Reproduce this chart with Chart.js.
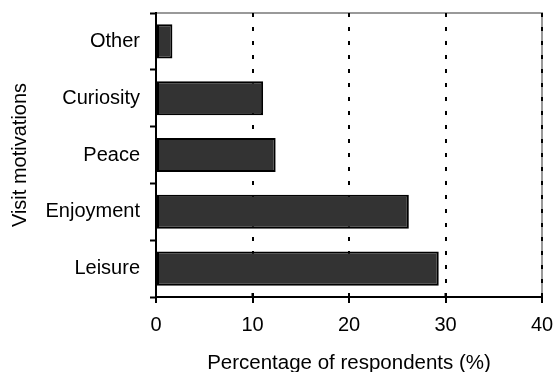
<!DOCTYPE html>
<html>
<head>
<meta charset="utf-8">
<script src="https://cdn.jsdelivr.net/npm/chart.js@4"></script>
<style>
  html, body { margin: 0; padding: 0; background: #fff; }
  #wrap { width: 553px; height: 372px; }
</style>
</head>
<body>
<div id="wrap"><canvas id="chartMotivations"></canvas></div>
<script>
const motivations = ["Other", "Curiosity", "Peace", "Enjoyment", "Leisure"];
const respondentsPct = [1.7, 11.1, 12.4, 26.2, 29.3];
const xTickValues = [0, 10, 20, 30, 40];

Chart.defaults.font.family = "'Liberation Sans', Arial, sans-serif";
Chart.defaults.font.size = 20;
Chart.defaults.color = "#000";

// grey frame on top and right, under the gridlines
const frame = {
  id: "frame",
  beforeDraw: (chart) => {
    const { ctx, chartArea: a } = chart;
    ctx.save();
    ctx.strokeStyle = "#999";
    ctx.lineWidth = 2;
    ctx.beginPath();
    ctx.moveTo(a.left, a.top);
    ctx.lineTo(a.right, a.top);
    ctx.lineTo(a.right, a.bottom);
    ctx.stroke();
    ctx.restore();
  },
  // tick marks cross the x axis
  afterDraw: (chart) => {
    const { ctx } = chart;
    const x = chart.scales.x;
    ctx.save();
    ctx.strokeStyle = "#000";
    ctx.lineWidth = 2;
    xTickValues.forEach((v) => {
      const px = x.getPixelForValue(v);
      ctx.beginPath();
      ctx.moveTo(px, x.top - 4);
      ctx.lineTo(px, x.top);
      ctx.stroke();
    });
    ctx.restore();
  },
};

const data = {
  labels: motivations,
  datasets: [
    {
      label: "Visit motivations",
      data: respondentsPct,
      backgroundColor: "#333333",
      borderColor: "#000",
      borderWidth: 2,
      borderSkipped: false,
      categoryPercentage: 1,
      barPercentage: 0.6,
    },
  ],
};

const config = {
  type: "bar",
  data,
  options: {
    indexAxis: "y",
    responsive: true,
    maintainAspectRatio: false,
    animation: false,
    layout: { padding: { top: 13, right: 11, left: 0, bottom: 0 } },
    plugins: {
      legend: { display: false },
      tooltip: { enabled: false },
    },
    scales: {
      x: {
        min: 0,
        max: 40,
        afterFit: (scale) => {
          scale.height = 75;
          scale.paddingLeft = 0;
          scale.paddingRight = 0;
        },
        ticks: { stepSize: 10, padding: 10 },
        grid: {
          color: "#000",
          lineWidth: 2,
          tickLength: 6,
          tickColor: "#000",
          tickWidth: 2,
        },
        border: { color: "#000", width: 2, dash: [4, 10] },
        title: {
          display: true,
          text: "Percentage of respondents (%)",
          font: { size: 20.5 },
          padding: { top: 0, bottom: -4 },
        },
      },
      y: {
        afterFit: (scale) => {
          scale.width = 156;
          scale.paddingTop = 0;
          scale.paddingBottom = 0;
        },
        ticks: { padding: 10 },
        grid: {
          drawOnChartArea: false,
          tickLength: 6,
          tickColor: "#000",
          tickWidth: 2,
        },
        border: { color: "#000", width: 2 },
        title: {
          display: true,
          text: "Visit motivations",
          padding: { top: 8, bottom: 0 },
        },
      },
    },
  },
  plugins: [frame],
};

const chartMotivations = new Chart(
  document.getElementById("chartMotivations"),
  config
);
</script>
</body>
</html>
